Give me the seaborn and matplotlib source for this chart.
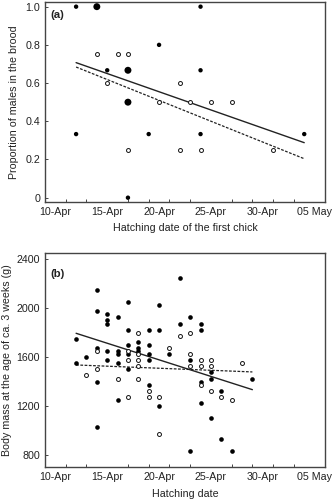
import numpy as np
import pandas as pd
import matplotlib
matplotlib.use("Agg")
import matplotlib.pyplot as plt
import matplotlib.dates as mdates
import seaborn as sns

# ---------------- data ----------------
# Panel (a): proportion of males in the brood vs hatching date of the first chick
a_fill_date = ["04-12", "04-14", "04-24", "04-20", "04-15", "04-17", "04-24",
               "04-17", "04-12", "04-19", "04-24", "05-04", "04-17"]
a_fill_prop = [1.0, 1.0, 1.0, 0.8, 0.667, 0.667, 0.667,
               0.5, 0.333, 0.333, 0.333, 0.333, 0.0]
a_fill_n = [1, 2, 1, 1, 1, 2, 1, 2, 1, 1, 1, 1, 1]

a_open_date = ["04-14", "04-16", "04-17", "04-15", "04-22", "04-20", "04-23",
               "04-25", "04-27", "04-17", "04-22", "04-24", "05-01"]
a_open_prop = [0.75, 0.75, 0.75, 0.6, 0.6, 0.5, 0.5, 0.5, 0.5, 0.25, 0.25, 0.25, 0.25]

a_line_date = ["04-12", "05-04"]
a_solid_y = [0.707, 0.288]
a_dashed_y = [0.684, 0.204]

# Panel (b): body mass at ca. 3 weeks vs hatching date
b_fill_date = ["04-12", "04-12", "04-13",
               "04-14", "04-14", "04-14", "04-14", "04-14",
               "04-15", "04-15", "04-15", "04-15", "04-15",
               "04-16", "04-16", "04-16", "04-16", "04-16",
               "04-17", "04-17", "04-17", "04-17", "04-17",
               "04-18", "04-18", "04-18",
               "04-19", "04-19", "04-19", "04-19", "04-19",
               "04-20", "04-20", "04-20",
               "04-21",
               "04-22", "04-22",
               "04-23", "04-23", "04-23",
               "04-24", "04-24", "04-24", "04-24",
               "04-25", "04-25", "04-25",
               "04-26", "04-26",
               "04-27",
               "04-29"]
b_fill_mass = [1750, 1550, 1600,
               2150, 1975, 1675, 1400, 1025,
               1950, 1900, 1875, 1650, 1575,
               1925, 1650, 1625, 1550, 1250,
               2050, 1825, 1700, 1625, 1500,
               1725, 1675, 1650,
               1825, 1700, 1625, 1575, 1375,
               2025, 1825, 1200,
               1625,
               2250, 1875,
               1925, 1575, 830,
               1875, 1825, 1400, 1225,
               1475, 1425, 1100,
               1325, 930,
               830,
               1425]

b_open_date = ["04-13",
               "04-14", "04-14",
               "04-16",
               "04-17", "04-17", "04-17",
               "04-18", "04-18", "04-18", "04-18", "04-18",
               "04-19", "04-19",
               "04-20", "04-20",
               "04-21",
               "04-22",
               "04-23", "04-23", "04-23",
               "04-24", "04-24", "04-24",
               "04-25", "04-25", "04-25",
               "04-26",
               "04-27",
               "04-28"]
b_open_mass = [1450,
               1650, 1500,
               1425,
               1650, 1575, 1275,
               1800, 1625, 1575, 1525, 1425,
               1325, 1275,
               1275, 975,
               1675,
               1775,
               1800, 1625, 1525,
               1575, 1525, 1375,
               1575, 1525, 1325,
               1275,
               1250,
               1550]

b_line_date = ["04-12", "04-29"]
b_solid_y = [1795, 1334]
b_dashed_y = [1536, 1479]

x_tick_dates = ["04-10", "04-15", "04-20", "04-25", "04-30", "05-05"]
x_tick_labels = ["10-Apr", "15-Apr", "20-Apr", "25-Apr", "30-Apr", "05 May"]
a_yticks = [0, 0.2, 0.4, 0.6, 0.8, 1.0]
a_ytick_labels = ["0", "0.2", "0.4", "0.6", "0.8", "1.0"]
b_yticks = [800, 1200, 1600, 2000, 2400]
b_ytick_labels = ["800", "1200", "1600", "2000", "2400"]


def to_dt(lst):
    return pd.to_datetime(["2010-" + d for d in lst])


# ---------------- style ----------------
sns.set_theme(style="white")
plt.rcParams["font.family"] = ["Liberation Sans", "DejaVu Sans"]
FS = 7.7
TXT = "#222222"
SPINE = "#444444"

fig = plt.figure(figsize=(3.33, 5.0), dpi=100)
ax1 = fig.add_axes([0.1351, 0.5966, 0.8408, 0.400])
ax2 = fig.add_axes([0.1351, 0.0666, 0.8408, 0.428])

# ---------------- panel a ----------------
dfa_f = pd.DataFrame({"date": to_dt(a_fill_date), "prop": a_fill_prop, "n": a_fill_n})
dfa_o = pd.DataFrame({"date": to_dt(a_open_date), "prop": a_open_prop})
sns.scatterplot(data=dfa_f, x="date", y="prop", size="n", sizes={1: 10, 2: 25},
                color="black", edgecolor="black", linewidth=0, legend=False,
                ax=ax1, zorder=3)
sns.scatterplot(data=dfa_o, x="date", y="prop", s=8, color="white",
                edgecolor="#111111", linewidth=0.7, legend=False, ax=ax1, zorder=3)
sns.lineplot(x=to_dt(a_line_date), y=a_solid_y, color="#222222", lw=1.0, ax=ax1)
sns.lineplot(x=to_dt(a_line_date), y=a_dashed_y, color="#222222", lw=0.9,
             linestyle=(0, (2.2, 1.2)), ax=ax1)
ax1.set_ylim(-0.021, 1.026)
ax1.set_yticks(a_yticks)
ax1.set_yticklabels(a_ytick_labels)
ax1.set_xlabel("Hatching date of the first chick", fontsize=FS, color=TXT, va="center")
ax1.set_ylabel("Proportion of males in the brood", fontsize=FS, color=TXT, va="center")
ax1.xaxis.set_label_coords(0.5, -0.131)
ax1.yaxis.set_label_coords(-0.111, 0.5)
ax1.text(0.02, 0.933, "(a)", transform=ax1.transAxes, fontsize=FS + 0.5,
         fontweight="bold", color=TXT, ha="left", va="center")

# ---------------- panel b ----------------
dfb_f = pd.DataFrame({"date": to_dt(b_fill_date), "mass": b_fill_mass})
dfb_o = pd.DataFrame({"date": to_dt(b_open_date), "mass": b_open_mass})
sns.scatterplot(data=dfb_f, x="date", y="mass", s=11, color="black",
                edgecolor="black", linewidth=0, legend=False, ax=ax2, zorder=3)
sns.scatterplot(data=dfb_o, x="date", y="mass", s=8, color="white",
                edgecolor="#111111", linewidth=0.7, legend=False, ax=ax2, zorder=3)
sns.lineplot(x=to_dt(b_line_date), y=b_solid_y, color="#222222", lw=1.0, ax=ax2)
sns.lineplot(x=to_dt(b_line_date), y=b_dashed_y, color="#222222", lw=0.9,
             linestyle=(0, (2.2, 1.2)), ax=ax2)
ax2.set_ylim(704, 2454)
ax2.set_yticks(b_yticks)
ax2.set_yticklabels(b_ytick_labels)
ax2.set_xlabel("Hatching date", fontsize=FS, color=TXT, va="center")
ax2.set_ylabel("Body mass at the age of ca. 3 weeks (g)", fontsize=FS, color=TXT, va="center")
ax2.xaxis.set_label_coords(0.5, -0.128)
ax2.yaxis.set_label_coords(-0.136, 0.5)
ax2.text(0.02, 0.90, "(b)", transform=ax2.transAxes, fontsize=FS + 0.5,
         fontweight="bold", color=TXT, ha="left", va="center")

# ---------------- shared axis styling ----------------
for ax in (ax1, ax2):
    ax.set_xlim(pd.Timestamp("2010-04-09"), pd.Timestamp("2010-05-06"))
    ax.set_xticks(to_dt(x_tick_dates))
    ax.set_xticklabels(x_tick_labels)
    ax.xaxis.set_minor_locator(mdates.DayLocator(bymonthday=list(range(1, 32, 2))))
    ax.tick_params(axis="x", which="major", length=0, pad=4, labelsize=FS, labelcolor=TXT)
    ax.tick_params(axis="x", which="minor", direction="in", length=2.2, width=0.7,
                   color=SPINE, bottom=True)
    ax.tick_params(axis="y", which="major", direction="in", length=2.2, width=0.7,
                   color=SPINE, pad=3.5, labelsize=FS, labelcolor=TXT, left=True)
    for s in ax.spines.values():
        s.set_visible(True)
        s.set_color(SPINE)
        s.set_linewidth(1.0)
    ax.grid(False)

fig.savefig("out.png", dpi=100)
